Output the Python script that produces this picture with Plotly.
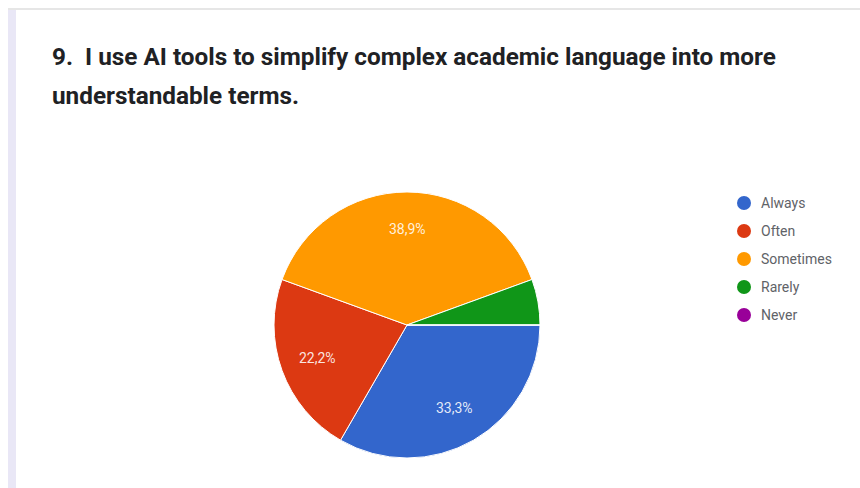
import math
import plotly.graph_objects as go

# Survey responses (n = 18)
categories = ["Always", "Often", "Sometimes", "Rarely", "Never"]
counts = [6, 4, 7, 1, 0]
colors = ["#3366cc", "#dc3912", "#ff9900", "#109618", "#990099"]
title_lines = ["9.  I use AI tools to simplify complex academic language into more",
               "understandable terms."]

W, H = 860, 488
total = sum(counts)

# Pie placement in pixels
cx, cy, r = 407, 325, 133
rotation = 90  # plotly rotation: first slice begins at 3 o'clock, then runs clockwise

fig = go.Figure()
fig.add_trace(go.Pie(
    labels=categories,
    values=counts,
    textinfo="none",
    marker=dict(colors=colors, line=dict(color="#ffffff", width=1)),
    sort=False,
    direction="clockwise",
    rotation=rotation,
    showlegend=False,
    hoverinfo="label+percent",
    domain=dict(x=[(cx - r) / W, (cx + r) / W], y=[(H - cy - r) / H, (H - cy + r) / H]),
))

shapes = [
    # card frame: lavender left edge and grey top rule
    dict(type="rect", xref="paper", yref="paper", x0=8 / W, x1=16 / W, y0=0, y1=(H - 9) / H,
         fillcolor="#e9e7f6", line=dict(width=0), layer="below"),
    dict(type="rect", xref="paper", yref="paper", x0=8 / W, x1=1, y0=(H - 10) / H, y1=(H - 8) / H,
         fillcolor="#e6e6e6", line=dict(width=0), layer="below"),
]
annotations = []

# Two-line bold question title
for i, line in enumerate(title_lines):
    annotations.append(dict(text=f"<b>{line}</b>", xref="paper", yref="paper",
                            x=50 / W, y=(H - (57 + 38 * i)) / H,
                            xanchor="left", yanchor="middle", showarrow=False,
                            font=dict(family="Roboto, Arial, sans-serif", size=24.3, color="#202124")))

# Percent labels inside the slices, decimal comma; tiny slices stay unlabeled
label_r = 0.72 * r
math_start = 90 - rotation  # convert plotly rotation to a standard math angle
cum = 0
for c in counts:
    p = c / total * 100
    mid = math.radians(math_start - (cum + c / 2) / total * 360)
    cum += c
    if p < 10:
        continue
    x = cx + label_r * math.cos(mid)
    y = cy - label_r * math.sin(mid)
    annotations.append(dict(text=f"{p:.1f}%".replace(".", ","), xref="paper", yref="paper",
                            x=x / W, y=(H - y) / H, xanchor="center", yanchor="middle",
                            showarrow=False,
                            font=dict(family="Roboto, Arial, sans-serif", size=14,
                                      color="rgba(255,255,255,0.88)")))

# Legend built from circles and labels
lx, ly0, dy, mr = 744, 203, 28, 7
for i, (name, col) in enumerate(zip(categories, colors)):
    y = ly0 + i * dy
    shapes.append(dict(type="circle", xref="paper", yref="paper",
                       x0=(lx - mr) / W, x1=(lx + mr) / W,
                       y0=(H - y - mr) / H, y1=(H - y + mr) / H,
                       fillcolor=col, line=dict(width=0)))
    annotations.append(dict(text=name, xref="paper", yref="paper", x=(lx + 15) / W, y=(H - y) / H,
                            xanchor="left", yanchor="middle", showarrow=False,
                            font=dict(family="Roboto, Arial, sans-serif", size=14, color="#5f6368")))

fig.update_layout(
    width=W, height=H,
    margin=dict(l=0, r=0, t=0, b=0),
    paper_bgcolor="#ffffff",
    plot_bgcolor="#ffffff",
    shapes=shapes,
    annotations=annotations,
)

fig.write_html("out.html")
